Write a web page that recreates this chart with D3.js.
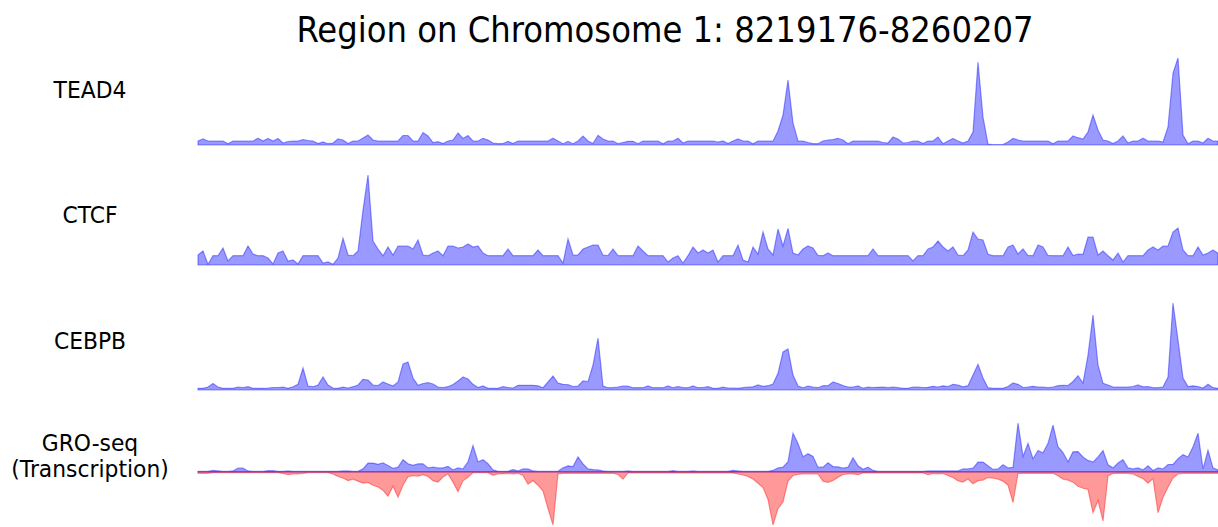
<!DOCTYPE html>
<html>
<head>
<meta charset="utf-8">
<script src="https://cdn.jsdelivr.net/npm/d3@7"></script>
<style>
  html, body { margin: 0; padding: 0; background: #fff; }
  text { font-family: "DejaVu Sans", sans-serif; fill: #000; }
</style>
</head>
<body>
<div id="chart"></div>
<script>
// region shown, bins are evenly spaced over it
var chrom = "1";
var regionStart = 8219176;
var regionEnd = 8260207;

// signal per bin
var tead4 = [
  4, 6, 4, 4, 4, 4, 1.3, 4, 4, 4,
  4, 4, 6.7, 4, 6.5, 4, 6.5, 2, 3.5, 4,
  4, 5.5, 4.5, 4, 1.5, 3, 1.3, 2, 6, 5,
  1.5, 4, 4, 7, 10, 5, 4, 4, 4, 4,
  4, 9.5, 9.5, 4, 4, 12.5, 9, 2.5, 3.3, 1.5,
  4, 5, 12, 6.5, 9.5, 4, 4, 6.7, 5, 2,
  1.3, 1.5, 3.7, 1.5, 4, 4, 4, 4, 4, 4,
  4, 6.7, 4, 1.3, 3.7, 1.3, 4, 9, 4, 1.5,
  9.7, 6, 4, 4, 1.3, 2.5, 3.7, 3.7, 1.3, 4,
  4, 4, 4, 1.3, 4, 4, 6.7, 2, 4, 4,
  4, 4, 4, 4, 3, 4, 1.5, 4, 6, 4,
  4, 1.3, 4, 4, 4, 4, 14, 30, 65, 22,
  4, 4, 2.5, 1.3, 1.3, 4, 5, 5.5, 6.7, 5,
  1.3, 4, 4, 4, 4, 4, 4, 2.5, 2, 8,
  6, 2, 2.5, 4, 4, 1.5, 4, 4, 8, 1.3,
  4, 6.5, 4, 2, 4, 13, 83, 28, 1, 0.5,
  0.5, 0.5, 3, 6.7, 5, 4, 4, 4, 4, 4,
  4, 1.3, 4, 4, 4, 9, 7.3, 6, 13, 30,
  15, 5, 4, 1.5, 4, 9, 2, 4, 4, 6.7,
  4, 4, 4, 3, 18, 72, 87, 10, 1.3, 4,
  4, 2, 6.7, 4, 4
];

var ctcf = [
  10, 14, 0.7, 9.3, 9.3, 17, 4, 9.3, 9.3, 9.3,
  19, 11, 9.3, 9.3, 7, 1, 12, 14, 4, 5,
  1, 9.3, 9.3, 9.3, 9.3, 2, 3, 0.7, 7, 26.7,
  10, 9.3, 14, 55, 90, 24, 16, 9.3, 18, 10,
  19, 19, 19, 16, 25, 10, 9.3, 12, 14, 9.3,
  19, 19, 17, 18, 21, 18, 19, 12, 9.3, 9.3,
  9.3, 9.3, 16, 9.3, 9.3, 9.3, 9.3, 9.3, 15, 9.3,
  9.3, 9.3, 9.3, 2, 26, 10, 10, 16, 18, 20,
  20, 10, 9.3, 16, 9.3, 9.3, 9.3, 9.3, 19, 14,
  9.3, 9.3, 9.3, 9.3, 3, 7, 9.3, 2, 9.3, 18,
  12, 15, 12, 15, 3, 9.3, 9.3, 9.3, 20, 5,
  3, 18, 11, 33, 16, 10, 36, 19, 36.7, 12,
  10, 16, 19, 17, 9.5, 9.3, 12, 9.3, 9.3, 9.3,
  9.3, 9.3, 9.3, 9.3, 9.3, 16, 9.3, 9.3, 9.3, 9.3,
  9.3, 9.3, 9.3, 4, 9.3, 9.3, 16, 18, 24, 18,
  14, 18, 10, 9.3, 15, 33, 26, 25, 10.7, 9.3,
  9.3, 9.3, 18, 20, 11, 16, 9.5, 9.3, 20, 18,
  9.5, 9.3, 9.3, 9.3, 18, 9.5, 11, 10.7, 28, 28,
  10, 14, 9.3, 5, 12, 3, 9.3, 9.3, 9.3, 9.3,
  15, 18, 15, 19, 19, 33, 37, 15, 9.3, 9.3,
  18, 10, 12, 15, 11.7
];

var cebpb = [
  1.7, 1.7, 3, 6.5, 3, 1.7, 1.7, 1.7, 3, 2.3,
  3.3, 1.7, 1.7, 1.7, 2, 2.5, 2.5, 3, 1.7, 3.2,
  5.7, 22, 4, 3.3, 5, 13, 5, 2, 1.7, 3,
  2, 3.3, 5, 10.7, 10, 5, 4.5, 8, 6, 4,
  8, 26, 28, 12, 4.7, 6.5, 7.5, 6, 3, 2.3,
  3.3, 5.5, 9, 13, 11, 5.7, 2.5, 4, 1.7, 1.7,
  1.7, 3.5, 2.5, 2, 4.7, 4.7, 4.7, 4.7, 4.2, 2.3,
  8, 14, 7, 5.7, 5.3, 3.5, 4, 9, 8.3, 25,
  52, 4, 2.3, 2.3, 3, 4, 4, 2.3, 2.3, 2.3,
  4, 2.3, 2.3, 2.3, 4, 2.3, 3.5, 2.3, 2.3, 4,
  2.3, 2.5, 3.5, 1.7, 1.7, 2.8, 2, 2, 1.7, 2.3,
  3, 3.2, 5, 3.7, 4.3, 6, 16.7, 38, 41, 15,
  4, 2.3, 4, 3, 2.3, 4.3, 4.3, 8, 6.5, 4.5,
  3, 3, 4, 1.8, 3, 2.5, 2.7, 2.8, 2.3, 2.8,
  2.3, 1.7, 1.7, 3, 3, 2.5, 2.7, 3.7, 3, 4.2,
  3.5, 5.7, 5, 3.2, 4.3, 15, 25.7, 12, 2.3, 1.7,
  1.7, 1.7, 3.5, 7, 5.7, 2.5, 3, 3.7, 3, 3,
  2.3, 3, 4.3, 4.7, 4.5, 8.5, 14.3, 7, 35, 75,
  25, 6.7, 5, 3, 3, 3, 3, 3.5, 5, 3.2,
  3.5, 2.3, 2.3, 3, 13, 87, 50, 12, 3.5, 4.2,
  3.5, 2, 5.7, 2.3, 1.7
];

// gro-seq, plus strand up and minus strand (as depth) down
var groPlus = [
  0.7, 0.7, 0.7, 1.5, 1.2, 0.7, 0.7, 1, 3.7, 3.7,
  1, 0.7, 0.7, 0.7, 1.3, 1.3, 0.7, 0.7, 1, 0.7,
  0.7, 0.7, 0.7, 0.7, 0.7, 0.7, 0.7, 0.7, 0.7, 1,
  1, 0.7, 0.7, 3, 8.7, 8.7, 7.5, 9, 6.3, 3.5,
  4.7, 12, 8, 6.5, 8, 8, 4, 4.7, 4, 4,
  5.5, 2, 4, 3, 10, 26, 10, 12, 8, 2,
  0.7, 0.7, 0.7, 2.3, 1, 3, 3, 1, 0.7, 0.7,
  0.7, 0.7, 0.7, 4, 6, 5.3, 14.7, 8, 3, 2.3,
  2, 1, 0.7, 0.7, 0.7, 0.7, 1, 0.7, 0.7, 0.7,
  0.7, 0.7, 0.7, 0.7, 0.7, 1.3, 0.7, 0.7, 0.7, 1,
  0.7, 0.7, 0.7, 0.7, 0.7, 0.7, 0.7, 1.5, 1, 0.7,
  0.7, 0.7, 0.7, 0.7, 0.7, 1.5, 4, 4.7, 10, 38,
  28, 15, 18, 15.3, 4.7, 4.7, 9, 5.3, 5, 3.7,
  4.7, 14, 6, 2.7, 4.7, 1.5, 0.7, 0.7, 0.7, 0.7,
  0.7, 0.7, 0.7, 0.7, 0.7, 0.7, 1, 1, 1, 1,
  1, 1, 1, 3, 3, 3.7, 9.7, 9.7, 6, 2.5,
  3, 7, 4, 4.5, 48, 15.3, 28, 13, 21, 18.7,
  28, 46, 24.7, 19, 10, 19.7, 20, 14.7, 11.3, 9.7,
  14.7, 21, 7, 4, 8.7, 12, 4, 3, 4, 2,
  6, 1.5, 4, 3, 7.3, 7.5, 13, 17, 14.7, 24.7,
  38, 3, 21.3, 4, 2
];

var groMinus = [
  1.3, 1.3, 1.3, 0.7, 0.7, 0.7, 0.7, 0.7, 0.7, 0.7,
  0.7, 0.7, 0.7, 0.7, 0.7, 0.7, 0.7, 1.5, 2.7, 2,
  2, 1.5, 0.7, 0.7, 0.7, 0.7, 0.7, 2, 4.5, 6,
  8.5, 7, 9, 11, 10.3, 13, 14.7, 18, 23.7, 14,
  24.7, 13, 4.7, 3.7, 4, 2.7, 4.5, 8.5, 10, 5,
  2, 10, 19.3, 8.7, 5.3, 0.7, 0.7, 0.7, 0.7, 3.3,
  2, 1.7, 1.3, 2, 1.3, 3.5, 12, 8.5, 13, 18.7,
  36, 52, 2, 1.3, 1.3, 1.3, 1.3, 1.3, 1.3, 1.3,
  1.3, 1.3, 1.3, 1.3, 2.5, 7, 1, 1, 1, 1,
  1, 1, 1, 1, 1, 1, 1, 1, 1, 1,
  1, 1, 1, 1, 1, 1, 1, 1, 2, 3,
  4.5, 7, 11, 15.3, 27, 52, 36, 29.5, 9, 3.5,
  2.3, 2, 2, 2, 2, 9, 10.3, 8.3, 5.3, 2.5,
  2, 2, 2.7, 1, 1, 1, 1, 1, 1, 1,
  1, 1, 1, 1, 1, 1, 2.7, 1.5, 2, 1.5,
  3.5, 5.5, 8.7, 10, 7, 11.5, 8.5, 8, 5.5, 6,
  7, 9, 13, 30, 1.5, 1.3, 1.3, 1.3, 1.3, 1.3,
  1.3, 1.3, 3.7, 7, 8, 10, 14, 16, 17, 40,
  28, 48, 4, 1.5, 1.3, 1.3, 1.3, 2, 4.5, 6.5,
  11, 6.5, 40, 25, 15, 6, 2, 1.3, 1.3, 1.3,
  1.3, 1.3, 1.3, 1.3, 1.3
];

var trackLabels = ["TEAD4", "CTCF", "CEBPB", ["GRO-seq", "(Transcription)"]];

// page and track layout
var width = 1218, height = 527;
var plotLeft = 198, plotRight = 1218;
var tracks = [
  {label: trackLabels[0], values: tead4, top: 58, bottom: 145, labelY: [98]},
  {label: trackLabels[1], values: ctcf, top: 175, bottom: 265, labelY: [223]},
  {label: trackLabels[2], values: cebpb, top: 303, bottom: 390, labelY: [349]},
  {label: trackLabels[3], plus: groPlus, minus: groMinus, top: 423, bottom: 525, labelY: [451, 477]}
];

var svg = d3.select("#chart")
  .append("svg")
  .attr("width", width)
  .attr("height", height);

// bin centres in genome coordinates
function binPos(n) {
  var step = (regionEnd - regionStart) / (n - 1);
  return d3.range(n).map(function(i) { return regionStart + i * step; });
}

var x = d3.scaleLinear()
  .domain([regionStart, regionEnd])
  .range([plotLeft, plotRight]);

var blue = "rgba(0,0,255,0.4)";
var red = "rgba(255,0,0,0.4)";

tracks.forEach(function(t) {
  var g = svg.append("g");

  if (t.plus) {
    var pos = binPos(t.plus.length);
    var y = d3.scaleLinear()
      .domain([-d3.max(t.minus), d3.max(t.plus)])
      .range([t.bottom, t.top]);

    var up = d3.area()
      .x(function(d, i) { return x(pos[i]); })
      .y0(y(0))
      .y1(function(d) { return y(d); });
    var down = d3.area()
      .x(function(d, i) { return x(pos[i]); })
      .y0(y(0))
      .y1(function(d) { return y(-d); });

    g.append("path").datum(t.minus)
      .attr("d", down)
      .style("fill", red).style("stroke", red).style("stroke-width", 1.2);
    g.append("path").datum(t.plus)
      .attr("d", up)
      .style("fill", blue).style("stroke", blue).style("stroke-width", 1.2);
  } else {
    var pos = binPos(t.values.length);
    var y = d3.scaleLinear()
      .domain([0, d3.max(t.values)])
      .range([t.bottom, t.top]);

    var area = d3.area()
      .x(function(d, i) { return x(pos[i]); })
      .y0(y(0))
      .y1(function(d) { return y(d); });

    g.append("path").datum(t.values)
      .attr("d", area)
      .style("fill", blue).style("stroke", blue).style("stroke-width", 1.2);
  }

  // track name on the left, one or two lines
  var lines = Array.isArray(t.label) ? t.label : [t.label];
  lines.forEach(function(s, k) {
    svg.append("text")
      .attr("transform", "translate(90," + t.labelY[k] + ") scale(0.95,1)")
      .attr("text-anchor", "middle")
      .style("font-size", "23px")
      .text(s);
  });
});

svg.append("text")
  .attr("transform", "translate(665,42) scale(0.91,1)")
  .attr("text-anchor", "middle")
  .style("font-size", "35.5px")
  .text("Region on Chromosome " + chrom + ": " + regionStart + "-" + regionEnd);
</script>
</body>
</html>
